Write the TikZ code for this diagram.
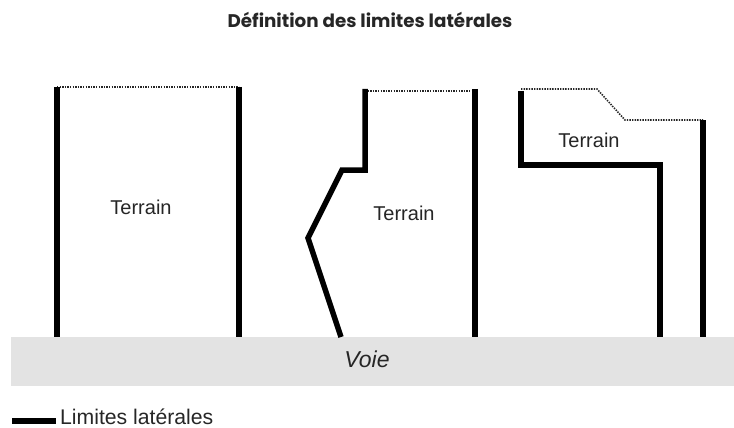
\documentclass[tikz,border=0pt]{standalone}
\usepackage{fontspec}
\setmainfont{Liberation Sans}
\newfontfamily\titlefont{Poppins}
\begin{document}
\begin{tikzpicture}[x=1pt,y=-1pt,
  limite/.style={line width=5.5pt, line join=miter},
  pointille/.style={line width=1.6pt, dash pattern=on 1.4pt off 1.2pt, black!85},
  lbl/.style={font=\fontsize{20}{23}\selectfont, text=black!85},
]
\useasboundingbox[fill=white] (0,0) rectangle (734,428);
% title
\node[font=\titlefont\bfseries\fontsize{18.3}{21}\selectfont, text=black!85] (titre) at (370,20) {Définition des limites latérales};
% road
\fill[black!11] (11,337) rectangle (734,386);
\node[font=\itshape\fontsize{23}{25}\selectfont, text=black!85] (voie) at (367,359) {Voie};
% terrain 1
\draw[pointille] (57,87) -- (239,87);
\draw[limite] (57,87) -- (57,337);
\draw[limite] (239,87) -- (239,337);
\node[lbl] (t1) at (141,207) {Terrain};
% terrain 2
\draw[pointille] (365,91) -- (475,91);
\draw[limite] (341,337) -- (308,238) -- (342,170) -- (365,170) -- (365,89);
\draw[limite] (475,89) -- (475,337);
\node[lbl] (t2) at (404,213) {Terrain};
% terrain 3
\draw[pointille] (521,89) -- (597,89) -- (625,120) -- (703,120);
\draw[limite] (521,91) -- (521,165) -- (660,165) -- (660,337);
\draw[limite] (703,120) -- (703,337);
\node[lbl] (t3) at (589,140) {Terrain};
% legend
\draw[line width=6pt] (12,420.5) -- (56,420.5);
\node[anchor=base west, font=\fontsize{21.2}{24}\selectfont, text=black!85, inner sep=0pt] (leg) at (60,424) {Limites latérales};
\end{tikzpicture}
\end{document}
